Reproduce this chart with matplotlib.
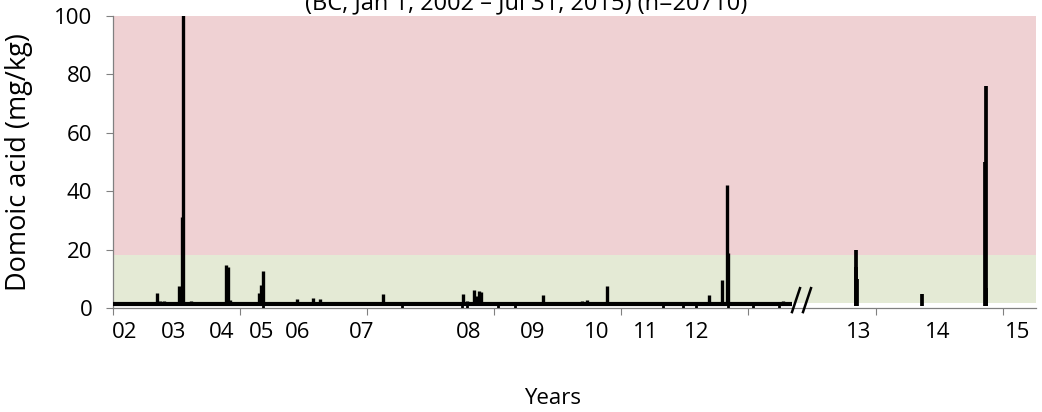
import matplotlib
matplotlib.use("Agg")
import matplotlib.pyplot as plt
from matplotlib.ticker import MultipleLocator

plt.rcParams['font.family'] = ['Open Sans', 'DejaVu Sans']

# x positions are in sample-block units along the record (0 .. 923)
base_start = 0
base_end = 679
base_level = 1.2

spike_pos = [2, 44, 47, 51, 66, 69, 70, 78, 113, 115, 117, 146, 148, 150, 165,
             184, 200, 207, 270, 294, 301, 335, 350, 354, 361, 364, 366, 368,
             424, 430, 436, 455, 469, 474, 494, 554, 596, 609, 614, 615, 652, 670]
spike_val = [2.2, 5.0, 2.4, 2.5, 7.5, 31, 120, 2.5, 14.7, 14.0, 2.7, 5.0, 8.0, 12.7, 1.8,
             3.0, 3.4, 3.0, 4.8, 1.8, 2.0, 2.0, 4.8, 2.5, 6.2, 4.0, 5.8, 5.5,
             2.0, 4.5, 2.0, 1.8, 2.4, 2.7, 7.5, 1.8, 4.5, 9.6, 42, 19, 1.8, 2.4]

dip_pos = [150, 289, 349, 354, 385, 402, 550, 570, 583, 615, 640, 666]
dip_val = [0.0] * len(dip_pos)

late_pos = [743, 743, 744, 809, 872, 873, 873]
late_val = [20, 14, 10, 4.8, 50, 76, 7]
late_floor = 0.7

band_green = (1.7, 18.2)
band_red = (18.2, 100)

year_labels = ['02', '03', '04', '05', '06', '07', '08', '09', '10', '11', '12', '13', '14', '15']
year_pos = [12, 61, 109, 149, 185, 249, 356, 420, 484, 533, 584, 746, 825, 905]

fig = plt.figure(figsize=(10.42, 4.12), dpi=100)
ax = fig.add_axes([113 / 1042, 1 - 308 / 412, 923 / 1042, 292 / 412])

ax.axhspan(*band_green, color='#E4EAD5', lw=0, zorder=0)
ax.axhspan(*band_red, color='#EFD1D3', lw=0, zorder=0)

ax.hlines(base_level, base_start, base_end, color='black', lw=3.0, zorder=3)
ax.vlines(spike_pos, base_level, spike_val, color='black', lw=2.4, zorder=3)
ax.vlines(dip_pos, base_level, dip_val, color='black', lw=2.0, zorder=3)
ax.vlines(late_pos, late_floor, late_val, color='black', lw=2.7, zorder=3)

# axis break marks
for x0 in (base_end, base_end + 11):
    ax.plot([x0, x0 + 8], [-1.4, 6.8], color='black', lw=1.8, clip_on=False, zorder=4)

ax.set_xlim(0, 923)
ax.set_ylim(0, 100)

ax.set_yticks([0, 20, 40, 60, 80, 100])
ax.tick_params(axis='y', direction='out', length=5, width=0.8, color='#808080',
               labelsize=16, pad=10)

ax.xaxis.set_major_locator(MultipleLocator(127.1))
ax.tick_params(axis='x', which='major', direction='out', length=5, width=0.8,
               color='#808080', labelbottom=False)
ax.set_xticks(year_pos, year_labels, minor=True)
ax.tick_params(axis='x', which='minor', length=0, labelsize=16, pad=10)

for s in ('top', 'right'):
    ax.spines[s].set_visible(False)
for s in ('left', 'bottom'):
    ax.spines[s].set_color('#808080')
    ax.spines[s].set_linewidth(0.9)

ax.set_ylabel('Domoic acid (mg/kg)', fontsize=19.5)
ax.yaxis.set_label_coords(-80 / 923, 0.5)
fig.text(553 / 1042, 1 - 398 / 412, 'Years', fontsize=16, ha='center', va='center')
fig.text(526 / 1042, 1 - 9 / 412, '(BC, Jan 1, 2002 \u2013 Jul 31, 2015) (n=20710)',
         fontsize=17, ha='center', va='baseline')

fig.savefig('out.png', dpi=100)
